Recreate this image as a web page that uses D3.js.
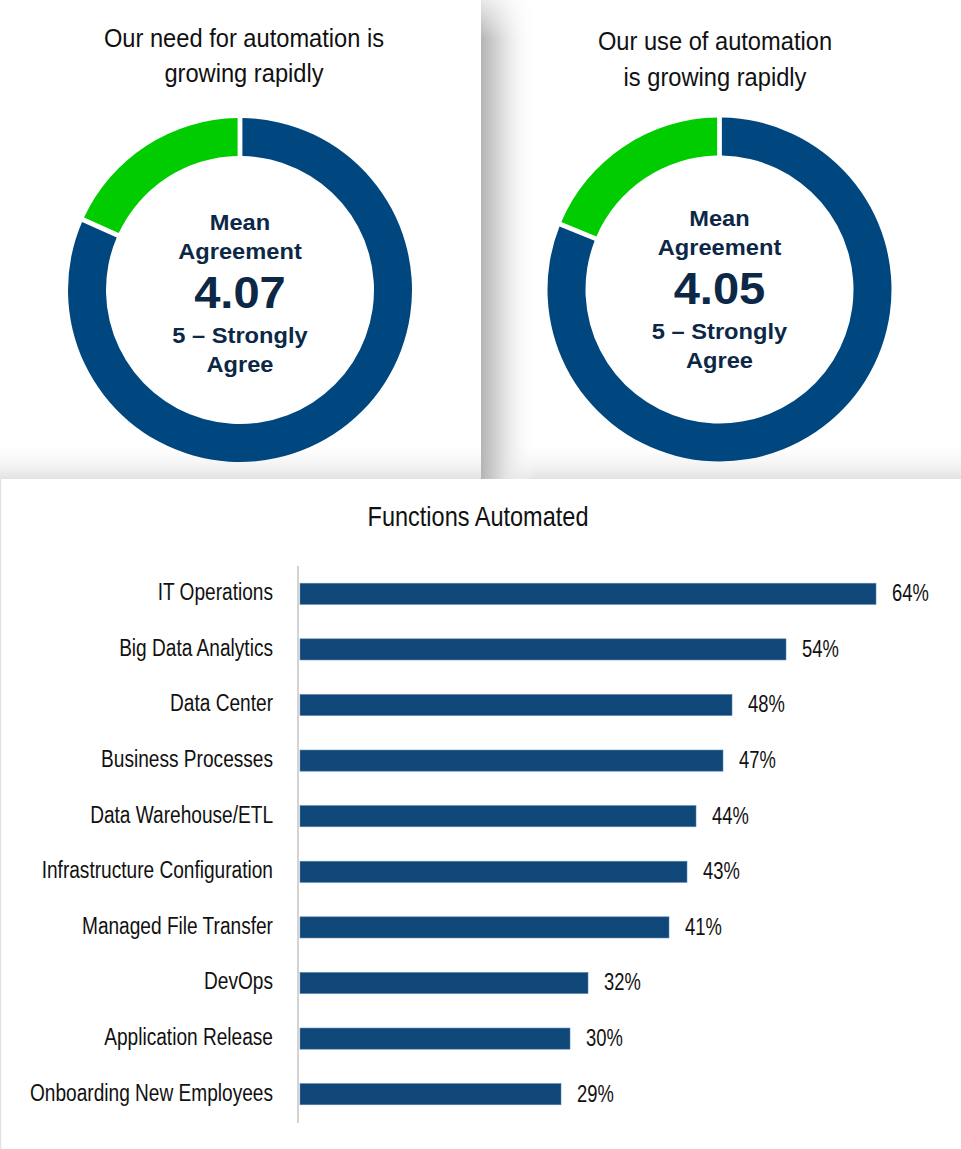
<!DOCTYPE html>
<html>
<head>
<meta charset="utf-8">
<script src="https://cdn.jsdelivr.net/npm/d3@7"></script>
<style>
  body { margin: 0; background: #fff; }
  svg { display: block; }
</style>
</head>
<body>
<script>
//Data
    const donutTitles = [["Our need for automation is", "growing rapidly"], ["Our use of automation", "is growing rapidly"]];
    const donutMeans = ["4.07", "4.05"];
    const needShares = [81.7, 18.3];   // blue, green
    const useShares = [81.2, 18.8];
    const categories = ["IT Operations", "Big Data Analytics", "Data Center", "Business Processes", "Data Warehouse/ETL",
                        "Infrastructure Configuration", "Managed File Transfer", "DevOps", "Application Release", "Onboarding New Employees"];
    const values = [64, 54, 48, 47, 44, 43, 41, 32, 30, 29];

//Consts
    const width = 961;
    const height = 1149;
    const font = "'Liberation Sans', Arial, sans-serif";
    const navy = "#0c2846";
    const colors = ["#00467f", "#00cc00"];

    // no narrow face installed, so squeeze/stretch text to the reference widths
    function fit(sel, k) {
        sel.each(function() {
            const w = this.getComputedTextLength();
            d3.select(this).attr("textLength", w * k).attr("lengthAdjust", "spacingAndGlyphs");
        });
    }

    const svg = d3.select("body")
                .append("svg")
                .attr("width", width)
                .attr("height", height);

    const defs = svg.append("defs");
    const side = defs.append("linearGradient").attr("id", "side").attr("x1", 0).attr("x2", 1).attr("y1", 0).attr("y2", 0);
    side.append("stop").attr("offset", 0).attr("stop-color", "#b4b4b4");
    side.append("stop").attr("offset", 0.45).attr("stop-color", "#e4e4e4");
    side.append("stop").attr("offset", 1).attr("stop-color", "#fff").attr("stop-opacity", 0);
    const bottom = defs.append("linearGradient").attr("id", "bottom").attr("x1", 0).attr("x2", 0).attr("y1", 0).attr("y2", 1);
    bottom.append("stop").attr("offset", 0).attr("stop-color", "#fff").attr("stop-opacity", 0);
    bottom.append("stop").attr("offset", 1).attr("stop-color", "#e2e2e2");
    const topFade = defs.append("linearGradient").attr("id", "topFade").attr("x1", 0).attr("x2", 0).attr("y1", 0).attr("y2", 1);
    topFade.append("stop").attr("offset", 0).attr("stop-color", "#fff").attr("stop-opacity", 0.7);
    topFade.append("stop").attr("offset", 1).attr("stop-color", "#fff").attr("stop-opacity", 0);

//Panel shadows
    svg.append("rect").attr("x", 0).attr("y", 440).attr("width", width).attr("height", 39).attr("fill", "url(#bottom)");
    svg.append("rect").attr("x", 481).attr("y", 0).attr("width", 55).attr("height", 479).attr("fill", "url(#side)");
    svg.append("rect").attr("x", 481).attr("y", 0).attr("width", 55).attr("height", 40).attr("fill", "url(#topFade)");
    svg.append("line").attr("x1", 0.5).attr("x2", 0.5).attr("y1", 479).attr("y2", height)
        .attr("stroke", "#e2e2e2").attr("stroke-width", 1.5);

//Donuts
    const pie = d3.pie().sort(null).value(d => d);
    const arc = d3.arc().innerRadius(134).outerRadius(172).padAngle(0.022);

    const donuts = [
        {cx: 240, cy: 290, tx: 244, ty: [47, 82], shares: needShares, mean: donutMeans[0], title: donutTitles[0], dy: 0},
        {cx: 719.5, cy: 289.5, tx: 715, ty: [50, 86], shares: useShares, mean: donutMeans[1], title: donutTitles[1], dy: -4.5}
    ];

    donuts.forEach(dn => {
        const title = svg.append("text")
            .selectAll("tspan")
            .data(dn.title)
            .join("tspan")
            .attr("x", dn.tx)
            .attr("y", (d, i) => dn.ty[i])
            .attr("text-anchor", "middle")
            .attr("font-family", font)
            .attr("font-size", 26)
            .attr("fill", "#111")
            .text(d => d);
        fit(title, 0.91);

        const g = svg.append("g").attr("transform", "translate(" + dn.cx + "," + dn.cy + ")");
        g.selectAll("path")
            .data(pie(dn.shares))
            .join("path")
            .attr("d", arc)
            .attr("fill", (d, i) => colors[i]);

        const lines = [
            {t: "Mean", y: 230, s: 21.5, k: 1.1},
            {t: "Agreement", y: 259, s: 21.5, k: 1.1},
            {t: dn.mean, y: 308, s: 44, k: 1.07},
            {t: "5 \u2013 Strongly", y: 343, s: 21.5, k: 1.1},
            {t: "Agree", y: 372, s: 21.5, k: 1.1}
        ];
        const inner = svg.selectAll(null)
            .data(lines)
            .join("text")
            .attr("x", dn.cx)
            .attr("y", d => d.y + dn.dy)
            .attr("text-anchor", "middle")
            .attr("font-family", font)
            .attr("font-weight", "bold")
            .attr("font-size", d => d.s)
            .attr("fill", navy)
            .text(d => d.t);
        inner.each(function(d) { fit(d3.select(this), d.k); });
    });

//Bar chart
    svg.append("text")
        .attr("x", 478)
        .attr("y", 526)
        .attr("text-anchor", "middle")
        .attr("font-family", font)
        .attr("font-size", 28)
        .attr("fill", "#111")
        .text("Functions Automated")
        .call(fit, 0.84);

    const xScale = d3.scaleLinear()
                    .domain([0, d3.max(values)])
                    .range([300, 876]);

    const yScale = d3.scaleBand()
                    .domain(categories)
                    .range([566, 1122])
                    .paddingInner(0.62)
                    .paddingOuter(0.31);

    svg.append("line")
        .attr("x1", 298).attr("x2", 298)
        .attr("y1", 566).attr("y2", 1123)
        .attr("stroke", "#d4d4d4")
        .attr("stroke-width", 2);

    svg.selectAll(".bar")
        .data(values)
        .join("rect")
        .attr("class", "bar")
        .attr("x", xScale(0))
        .attr("y", (d, i) => yScale(categories[i]))
        .attr("width", d => xScale(d) - xScale(0))
        .attr("height", yScale.bandwidth())
        .attr("fill", "#0f4779")
        .attr("stroke", "#5b82aa")
        .attr("stroke-width", 0.6);

    svg.selectAll(".cat")
        .data(categories)
        .join("text")
        .attr("class", "cat")
        .attr("x", 273)
        .attr("y", d => yScale(d) + yScale.bandwidth() / 2)
        .attr("dy", "0.28em")
        .attr("text-anchor", "end")
        .attr("font-family", font)
        .attr("font-size", 23)
        .attr("fill", "#111")
        .text(d => d)
        .call(fit, 0.83);

    svg.selectAll(".val")
        .data(values)
        .join("text")
        .attr("class", "val")
        .attr("x", d => xScale(d) + 16)
        .attr("y", (d, i) => yScale(categories[i]) + yScale.bandwidth() / 2)
        .attr("dy", "0.32em")
        .attr("font-family", font)
        .attr("font-size", 23)
        .attr("fill", "#111")
        .text(d => d + "%")
        .call(fit, 0.8);
</script>
</body>
</html>
